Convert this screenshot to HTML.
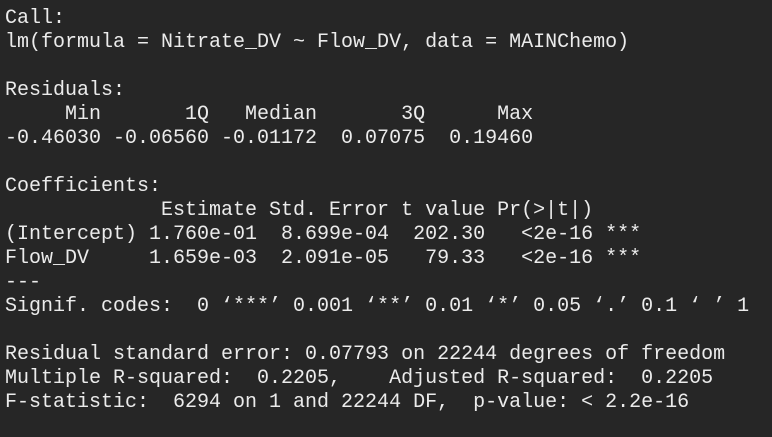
<!DOCTYPE html>
<html><head><meta charset="utf-8"><style>
html,body{margin:0;padding:0;background:#262626;width:772px;height:437px;overflow:hidden}
pre{margin:0;position:absolute;left:5px;top:7px;font-family:"Liberation Mono",monospace;font-size:20px;line-height:24px;color:#ebebeb;white-space:pre}
</style></head><body>
<pre>Call:
lm(formula = Nitrate_DV ~ Flow_DV, data = MAINChemo)

Residuals:
     Min       1Q   Median       3Q      Max 
-0.46030 -0.06560 -0.01172  0.07075  0.19460 

Coefficients:
             Estimate Std. Error t value Pr(&gt;|t|)    
(Intercept) 1.760e-01  8.699e-04  202.30   &lt;2e-16 ***
Flow_DV     1.659e-03  2.091e-05   79.33   &lt;2e-16 ***
---
Signif. codes:  0 ‘***’ 0.001 ‘**’ 0.01 ‘*’ 0.05 ‘.’ 0.1 ‘ ’ 1

Residual standard error: 0.07793 on 22244 degrees of freedom
Multiple R-squared:  0.2205,	Adjusted R-squared:  0.2205 
F-statistic:  6294 on 1 and 22244 DF,  p-value: &lt; 2.2e-16</pre>
</body></html>
